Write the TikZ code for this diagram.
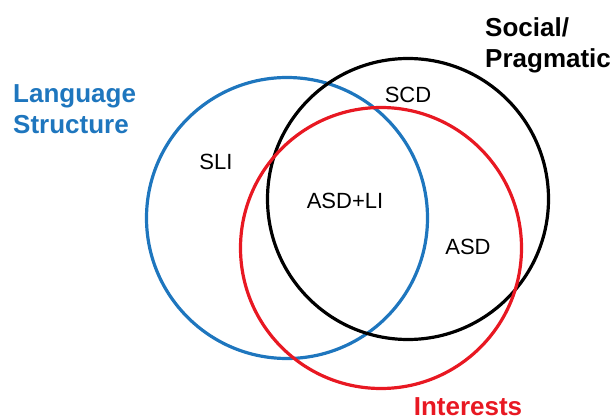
\documentclass[tikz,border=0pt]{standalone}
\usepackage{fontspec}
\setmainfont{Liberation Sans}
\usepackage{xcolor}
\usetikzlibrary{positioning}

\definecolor{langblue}{RGB}{30,118,190}
\definecolor{intred}{RGB}{232,24,34}

\begin{document}
\begin{tikzpicture}[x=1pt, y=-1pt]
\tikzset{
    ring/.style={line width=3.2pt},
    setlabel/.style={font=\fontsize{26}{31}\selectfont\bfseries, inner sep=0pt},
    arealabel/.style={font=\fontsize{22}{26}\selectfont, inner sep=0pt}
}
\useasboundingbox (0,0) rectangle (613,419);

% Three overlapping sets
\draw[ring, langblue] (287,218) circle (140.5);
\draw[ring, black] (408,199) circle (140.5);
\draw[ring, intred] (381,248) circle (140.5);

% Set names
\node[setlabel, align=left, text=langblue, anchor=west] (lang) at (13,109) {Language\\Structure};
\node[setlabel, align=left, text=black, anchor=west] (social) at (485,45) {Social/\\Pragmatic};
\node[setlabel, text=intred, anchor=base] (interests) at (468,415) {Interests};

% Region labels
\node[arealabel] (sli) at (216,162) {SLI};
\node[arealabel] (scd) at (408,95) {SCD};
\node[arealabel] (asdli) at (345,201) {ASD+LI};
\node[arealabel] (asd) at (468,247) {ASD};
\end{tikzpicture}
\end{document}
